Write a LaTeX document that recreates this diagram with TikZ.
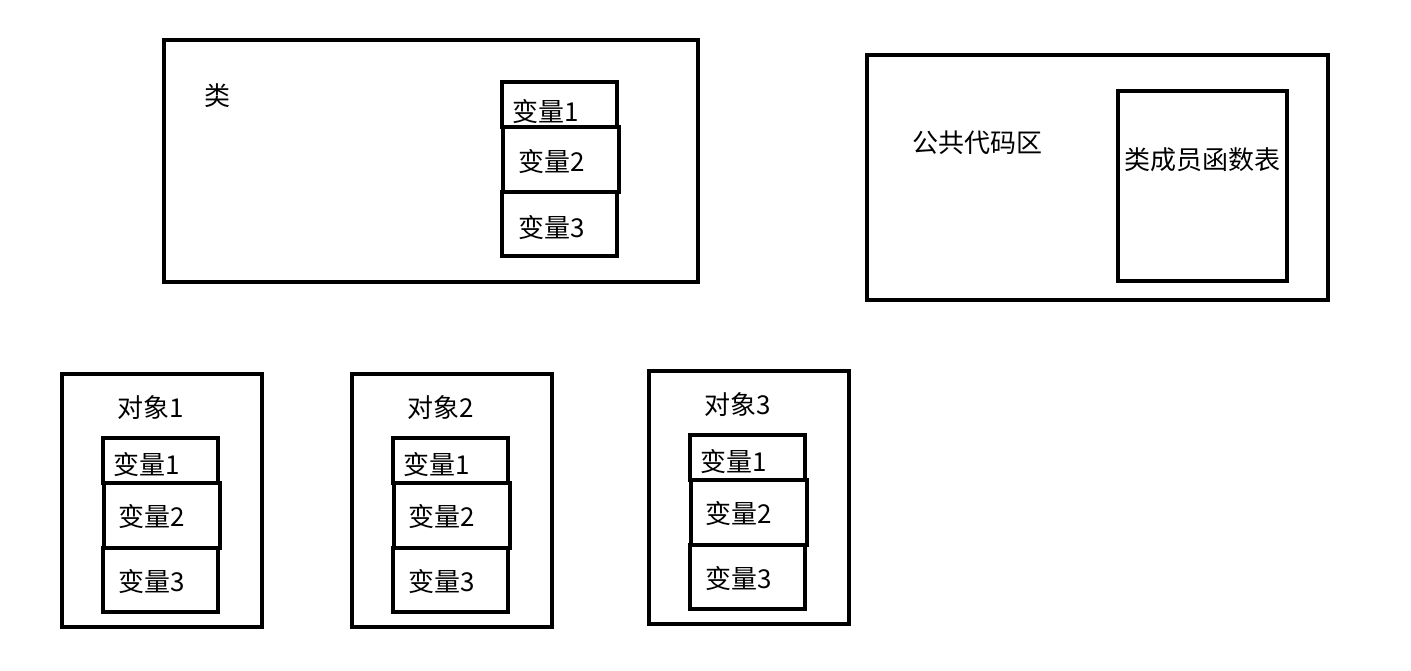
\documentclass[tikz,border=0pt]{standalone}
\usepackage{fontspec}
\setmainfont{Noto Sans CJK SC}
\begin{document}
\begin{tikzpicture}[box/.style={line width=1.2pt},
    lbl/.style={anchor=west, inner sep=0pt, font=\fontsize{7.4}{9}\selectfont}]
    \useasboundingbox (0,0) rectangle (14.11,-6.71);

    % 类
    \draw[box] (1.64,-0.40) rectangle (6.98,-2.82);
    \draw[box] (5.02,-0.82) rectangle (6.17,-1.27);
    \draw[box] (5.03,-1.27) rectangle (6.19,-1.92);
    \draw[box] (5.02,-1.92) rectangle (6.17,-2.56);
    \node[lbl] (cls) at (2.04,-0.96) {类};
    \node[lbl] (cv1) at (5.12,-1.12) {变量1};
    \node[lbl] (cv2) at (5.18,-1.62) {变量2};
    \node[lbl] (cv3) at (5.18,-2.28) {变量3};

    % 公共代码区
    \draw[box] (8.67,-0.55) rectangle (13.28,-3.00);
    \draw[box] (11.18,-0.91) rectangle (12.87,-2.81);
    \node[lbl] (pub) at (9.12,-1.43) {公共代码区};
    \node[lbl] (tbl) at (11.24,-1.60) {类成员函数表};

    % 对象
    \foreach \i/\dx/\dy in {1/0/0, 2/2.90/0, 3/5.87/0.03} {
        \begin{scope}[shift={(\dx,\dy)}]
            \draw[box] (0.62,-3.74) rectangle (2.62,-6.27);
            \draw[box] (1.03,-4.38) rectangle (2.18,-4.83);
            \draw[box] (1.04,-4.83) rectangle (2.20,-5.48);
            \draw[box] (1.03,-5.48) rectangle (2.18,-6.12);
            \node[lbl] (obj\i) at (1.17,-4.08) {对象\i};
            \node[lbl] (o\i v1) at (1.13,-4.65) {变量1};
            \node[lbl] (o\i v2) at (1.18,-5.17) {变量2};
            \node[lbl] (o\i v3) at (1.18,-5.82) {变量3};
        \end{scope}
    }
\end{tikzpicture}
\end{document}
